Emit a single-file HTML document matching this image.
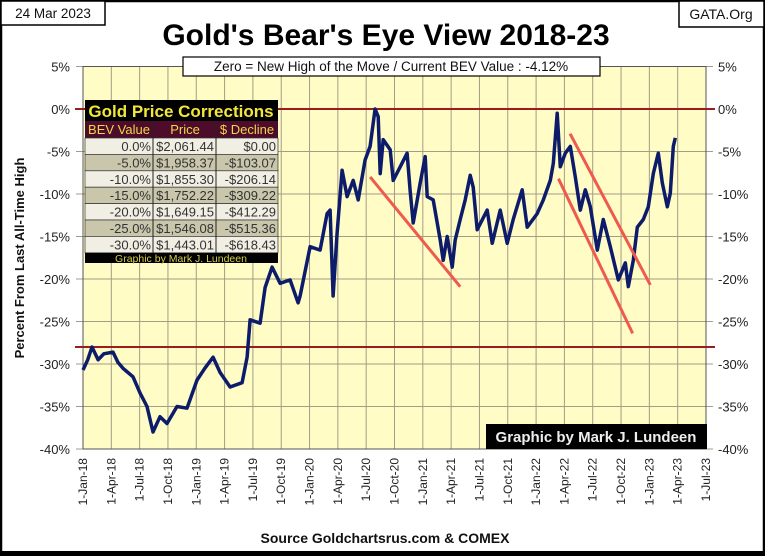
<!DOCTYPE html>
<html><head><meta charset="utf-8">
<style>
body{margin:0;background:#fff;}
#wrap{position:relative;width:765px;height:556px;overflow:hidden;font-family:"Liberation Sans",sans-serif;}
svg text{font-family:"Liberation Sans",sans-serif;}
</style></head>
<body>
<div id="wrap">
<svg id="chart" width="765" height="556" viewBox="0 0 765 556"></svg>
</div>
<script>
const tickLabels = ["1-Jan-18","1-Apr-18","1-Jul-18","1-Oct-18","1-Jan-19","1-Apr-19","1-Jul-19","1-Oct-19","1-Jan-20","1-Apr-20","1-Jul-20","1-Oct-20","1-Jan-21","1-Apr-21","1-Jul-21","1-Oct-21","1-Jan-22","1-Apr-22","1-Jul-22","1-Oct-22","1-Jan-23","1-Apr-23","1-Jul-23"];
const yTicks = [5,0,-5,-10,-15,-20,-25,-30,-35,-40];
// months since 1-Jan-2018
const months = [0,0.5,0.95,1.6,2.2,3.18,3.7,4.24,5.3,6.04,6.78,7.42,8.16,8.9,9.96,11.02,12.08,12.9,13.78,14.52,15.58,16.85,17.38,17.7,18.76,19.29,20.03,20.88,21.94,22.79,23.0,24.06,25.12,25.86,26.18,26.5,26.92,27.45,27.98,28.62,29.15,29.89,30.42,30.95,31.27,31.48,31.8,32.54,32.86,33.6,34.34,34.66,34.98,35.72,36.25,36.46,37.1,37.84,38.16,38.58,39.11,39.43,39.96,40.49,41.02,41.34,41.76,42.82,43.35,44.2,44.94,45.58,46.53,47.06,48.12,48.76,49.5,49.82,50.24,50.56,51.09,51.62,52.15,52.68,53.21,53.74,54.48,55.12,55.86,56.71,57.45,57.77,58.3,58.72,59.36,59.89,60.42,60.95,61.37,61.9,62.22,62.54,62.75];
const bev = [-30.7,-29.5,-28,-29.5,-28.8,-28.6,-29.8,-30.5,-31.5,-33.4,-35,-38,-36.2,-37,-35,-35.2,-31.9,-30.5,-29.2,-31,-32.7,-32.2,-29.2,-24.8,-25.2,-21,-18.6,-20.5,-20.1,-22.8,-22,-16.2,-16.6,-12.3,-11.9,-22,-14.6,-7.2,-10.3,-8.4,-10.7,-6,-4.4,0,-0.9,-7.6,-3.6,-4.8,-8.4,-6.8,-5.2,-9.7,-13.4,-8.7,-5.6,-10.3,-10.7,-15.4,-17.8,-15,-18.6,-15.4,-13,-10.7,-7.8,-9.2,-14.2,-11.9,-15.8,-11.9,-15.8,-13,-9.5,-13.9,-12.3,-10.7,-8.4,-6.4,-0.5,-6.8,-5.2,-4.4,-8,-11.9,-9.5,-11.5,-16.6,-13,-16.2,-20.1,-18.1,-20.9,-17.8,-13.9,-13,-11.5,-7.6,-5.2,-8.7,-11.5,-9.9,-4.4,-3.4];
const trendStartM = [30.42,50.37,51.6];
const trendStartV = [-8.0,-8.2,-2.9];
const trendEndM = [39.96,58.23,60.1];
const trendEndV = [-20.9,-26.4,-20.7];
const refLines = [0,-28];
const tableBev = ["0.0%","-5.0%","-10.0%","-15.0%","-20.0%","-25.0%","-30.0%"];
const tablePrice = ["$2,061.44","$1,958.37","$1,855.30","$1,752.22","$1,649.15","$1,546.08","$1,443.01"];
const tableDecl = ["$0.00","-$103.07","-$206.14","-$309.22","-$412.29","-$515.36","-$618.43"];

const L=83,R=706,T=66.5,B=449;
const xS = m => L + m/66*(R-L);
const yS = v => T + (5-v)/45*(B-T);
const NS="http://www.w3.org/2000/svg";
const svg=document.getElementById('chart');
function mk(tag,attrs,parent){const e=document.createElementNS(NS,tag);for(const k in attrs)e.setAttribute(k,attrs[k]);(parent||svg).appendChild(e);return e;}

let e=mk('rect',{x:1,y:1,width:763,height:552,fill:'#fff',stroke:'#000','stroke-width':2.5});


e=mk('rect',{x:L,y:T,width:R-L,height:B-T,fill:'#fffcc6'});


tickLabels.forEach((t,i)=>{const x=xS(i*3);
 const g=mk('line',{x1:x,x2:x,y1:T,y2:B,stroke:'#a39d84','stroke-width':1});
 
 
 const tx=mk('text',{x:0,y:0,'font-size':12,fill:'#222','text-anchor':'end',transform:`translate(${x+4},${B+9}) rotate(-90)`});
 tx.textContent=t;
 
 
});
yTicks.forEach(v=>{const y=yS(v);
 const g=mk('line',{x1:L-7,x2:R+7,y1:y,y2:y,stroke:'#a39d84','stroke-width':1});
 
 
 const a=mk('text',{x:70,y:y+5,'font-size':13,fill:'#222','text-anchor':'end'});a.textContent=v+'%';
 
 
 const b=mk('text',{x:718,y:y+5,'font-size':13,fill:'#222'});b.textContent=v+'%';
 
 
});
e=mk('rect',{x:L,y:T,width:R-L,height:B-T,fill:'none',stroke:'#555','stroke-width':1});


refLines.forEach(v=>{const r=mk('line',{x1:L-8,x2:R+9,y1:yS(v),y2:yS(v),stroke:'#9b1c1c','stroke-width':2});
 
 });
let d=months.map((m,i)=>(i?'L':'M')+xS(m).toFixed(1)+','+yS(bev[i]).toFixed(1)).join(' ');
e=mk('path',{d:d,fill:'none',stroke:'#0d1b6b','stroke-width':3.5,'stroke-linejoin':'round'});


trendStartM.forEach((m,i)=>{const l=mk('line',{x1:xS(m),y1:yS(trendStartV[i]),x2:xS(trendEndM[i]),y2:yS(trendEndV[i]),stroke:'#ee5a4e','stroke-width':3});
 
 });

const tg=mk('g',{});


mk('rect',{x:85,y:100,width:193,height:21,fill:'#000'},tg);
let t=mk('text',{x:181,y:117,'font-size':17,'font-weight':'bold',fill:'#f2e63a','text-anchor':'middle'},tg);t.textContent='Gold Price Corrections';


mk('rect',{x:85,y:121,width:193,height:17,fill:'#4d0d2a'},tg);
[["BEV Value",119],["Price",185],["$ Decline",247]].forEach(h=>{const ht=mk('text',{x:h[1],y:134,'font-size':13,fill:'#f2d54a','text-anchor':'middle'},tg);ht.textContent=h[0];
 
 });
tableBev.forEach((b,i)=>{const y=138+i*16.4;
 mk('rect',{x:85,y:y,width:193,height:16.4,fill:i%2?'#c9c6ac':'#f1eee4',stroke:'#333','stroke-width':0.7},tg);
 [[b,151],[tablePrice[i],214],[tableDecl[i],276]].forEach(c=>{const ct=mk('text',{x:c[1],y:y+13,'font-size':13,fill:'#333','text-anchor':'end'},tg);ct.textContent=c[0];
  
  });
});
mk('line',{x1:153,x2:153,y1:121,y2:253,stroke:'#222'},tg);mk('line',{x1:216,x2:216,y1:121,y2:253,stroke:'#222'},tg);
mk('rect',{x:85,y:253,width:193,height:10,fill:'#000'},tg);
t=mk('text',{x:181,y:262,'font-size':10.5,fill:'#d8d04a','text-anchor':'middle'},tg);t.textContent='Graphic by Mark J. Lundeen';



e=mk('rect',{x:486,y:424,width:221,height:25,fill:'#000'});


t=mk('text',{x:596,y:442,'font-size':15,'font-weight':'bold',fill:'#eee','text-anchor':'middle'});t.textContent='Graphic by Mark J. Lundeen';



e=mk('rect',{x:1,y:1,width:104,height:24,fill:'#fff',stroke:'#000','stroke-width':1.5});


t=mk('text',{x:53,y:18,'font-size':13.5,fill:'#111','text-anchor':'middle'});t.textContent='24 Mar 2023';


e=mk('rect',{x:679,y:1,width:85,height:26,fill:'#fff',stroke:'#000','stroke-width':1.5});


t=mk('text',{x:721,y:19,'font-size':14,fill:'#111','text-anchor':'middle'});t.textContent='GATA.Org';


t=mk('text',{x:386,y:45,'font-size':30,'font-weight':'bold',fill:'#000','text-anchor':'middle'});t.textContent="Gold's Bear's Eye View 2018-23";


e=mk('rect',{x:183,y:57,width:417,height:19,fill:'#fff',stroke:'#000','stroke-width':1.2});


t=mk('text',{x:391,y:71,'font-size':13.5,fill:'#111','text-anchor':'middle'});t.textContent='Zero = New High of the Move / Current  BEV Value : -4.12%';


t=mk('text',{x:0,y:0,'font-size':13,'font-weight':'bold',fill:'#111','text-anchor':'middle',transform:'translate(24,258) rotate(-90)'});t.textContent='Percent  From  Last  All-Time  High';


t=mk('text',{x:385,y:543,'font-size':14,'font-weight':'bold',fill:'#111','text-anchor':'middle'});t.textContent='Source Goldchartsrus.com & COMEX';


e=mk('rect',{x:0,y:551,width:765,height:5,fill:'#000'});


</script>
</body></html>
